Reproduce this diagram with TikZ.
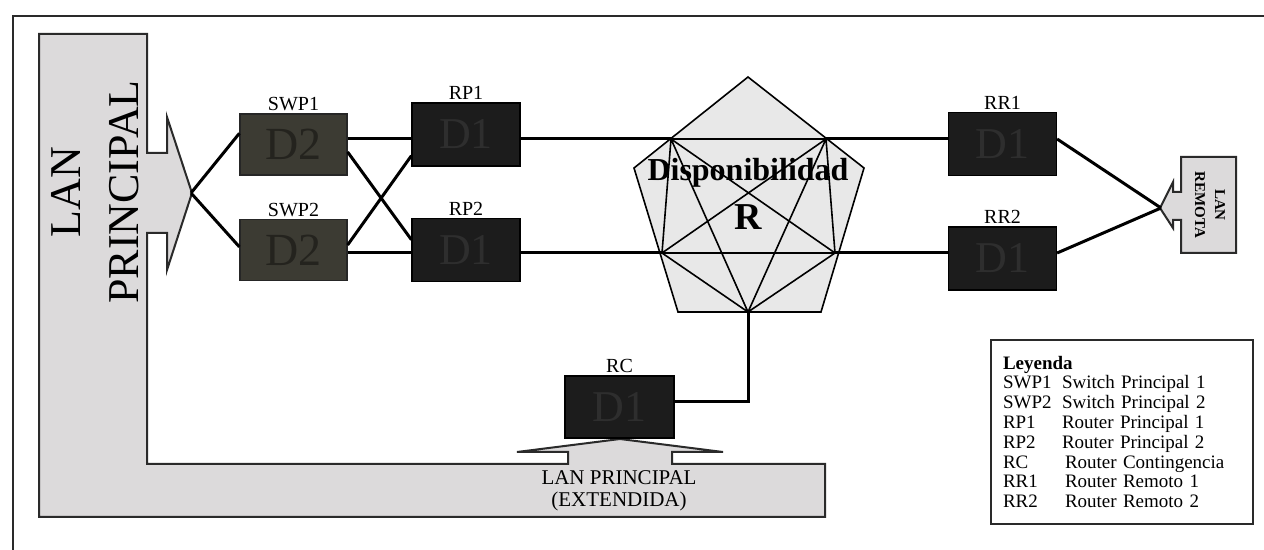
\documentclass[tikz,border=0pt]{standalone}
\usepackage{fontspec}
\setmainfont{Liberation Serif}
\usetikzlibrary{calc}
\definecolor{lanfill}{HTML}{DCDADB}
\definecolor{pentfill}{HTML}{E8E8E8}
\definecolor{swfill}{HTML}{3C3B33}
\definecolor{swtext}{HTML}{24231E}
\definecolor{rtfill}{HTML}{1C1C1C}
\definecolor{rttext}{HTML}{2E2E2E}
\definecolor{edgecol}{HTML}{2A2A2A}
\begin{document}
\begin{tikzpicture}[x=0.5pt,y=-0.5pt,
  conn/.style={line width=1.5pt, black},
  kedge/.style={line width=0.8pt, black},
  lanshape/.style={fill=lanfill, draw=edgecol, line width=1pt, line join=miter},
  swbox/.style={fill=swfill, draw=black!85, line width=0.6pt, minimum width=53.5pt, minimum height=30.5pt, inner sep=0pt, font=\fontsize{23}{23}\selectfont, text=swtext},
  rtbox/.style={fill=rtfill, draw=black, line width=0.6pt, minimum width=54pt, minimum height=31.5pt, inner sep=0pt, font=\fontsize{22}{22}\selectfont, text=rttext},
  boxlabel/.style={font=\fontsize{10}{10}\selectfont, inner sep=1pt, anchor=south},
  legendbox/.style={draw=edgecol, line width=1pt, fill=white, align=left, text width=119pt, inner xsep=6pt, inner ysep=4pt, minimum height=92pt, font=\fontsize{9.5}{9.9}\selectfont},
]
\useasboundingbox (0,0) rectangle (1264,550);

% outer frame (open at right and bottom)
\draw[edgecol, line width=1.2pt] (13,550) -- (13,16) -- (1264,16);

% LAN PRINCIPAL L-shape with two arrows
\draw[lanshape] (39,34) -- (147,34) -- (147,153) -- (167,153) -- (167,117) -- (192,193)
  -- (167,270) -- (167,233) -- (147,233) -- (147,464) -- (568,464) -- (568,452)
  -- (517,452) -- (620,439) -- (723,452) -- (672,452) -- (672,464) -- (825,464)
  -- (825,517) -- (39,517) -- cycle;
\node[rotate=90, align=center, font=\fontsize{22}{29}\selectfont, inner sep=0pt] (lanp) at (95,192) {LAN\\PRINCIPAL};
\node[align=center, font=\fontsize{10.5}{11}\selectfont, inner sep=0pt] (lanext) at (619,491) {LAN PRINCIPAL\\(EXTENDIDA)};
\coordinate (lanTip) at (191,193);

% LAN REMOTA
\draw[lanshape] (1181,157) -- (1236,157) -- (1236,253) -- (1181,253) -- (1181,220) -- (1173,220)
  -- (1173,228) -- (1160,208) -- (1173,182) -- (1173,192) -- (1181,192) -- cycle;
\node[rotate=-90, align=center, font=\bfseries\fontsize{7.5}{10}\selectfont, inner sep=0pt] (lanr) at (1210,205) {LAN\\REMOTA};
\coordinate (remTip) at (1161,208);

% pentagon
\coordinate (P1) at (748,77);
\coordinate (P2) at (864,168);
\coordinate (P3) at (821,312);
\coordinate (P4) at (678,312);
\coordinate (P5) at (634,168);
\coordinate (A) at (671,139);
\coordinate (B) at (826,139);
\coordinate (C) at (662,253);
\coordinate (D) at (835,253);
\coordinate (E) at (748,312);
\draw[kedge, fill=pentfill] (P1) -- (P2) -- (P3) -- (P4) -- (P5) -- cycle;
\draw[kedge] (A) -- (B) (C) -- (D) (A) -- (C) (A) -- (D) (A) -- (E)
  (B) -- (C) (B) -- (D) (B) -- (E) (C) -- (E) (D) -- (E);

% row reference lines
\coordinate (r1) at (0,139);
\coordinate (r2) at (0,253);

% boxes
\node[swbox] (SWP1) at (293.5,144.5) {D2};
\node[swbox] (SWP2) at (293.5,250) {D2};
\node[rtbox] (RP1) at (466,134.5) {D1};
\node[rtbox] (RP2) at (466,250) {D1};
\node[rtbox] (RR1) at (1002.5,144) {D1};
\node[rtbox] (RR2) at (1002.5,258.5) {D1};
\node[rtbox, minimum width=54.5pt, minimum height=31pt] (RC) at (619.5,407) {D1};

\node[boxlabel] (lSWP1) at (SWP1.north) {SWP1};
\node[boxlabel] (lSWP2) at (SWP2.north) {SWP2};
\node[boxlabel] (lRP1) at (RP1.north) {RP1};
\node[boxlabel] (lRP2) at (RP2.north) {RP2};
\node[boxlabel] (lRR1) at (RR1.north) {RR1};
\node[boxlabel] (lRR2) at (RR2.north) {RR2};
\node[boxlabel] (lRC) at (RC.north) {RC};

% connectors
\draw[conn] (lanTip) -- ($(SWP1.north west)!0.32!(SWP1.south west)$);
\draw[conn] (lanTip) -- ($(SWP2.north west)!0.45!(SWP2.south west)$);
\draw[conn] (SWP1.east |- r1) -- (RP1.west |- r1);
\draw[conn] (SWP2.east |- r2) -- (RP2.west |- r2);
\draw[conn] ($(SWP1.north east)!0.62!(SWP1.south east)$) -- ($(RP2.north west)!0.34!(RP2.south west)$);
\draw[conn] ($(SWP2.north east)!0.42!(SWP2.south east)$) -- ($(RP1.north west)!0.83!(RP1.south west)$);
\draw[conn] (RP1.east |- r1) -- (A);
\draw[conn] (B) -- (RR1.west |- r1);
\draw[conn] (RP2.east |- r2) -- (C);
\draw[conn] (D) -- (RR2.west |- r2);
\draw[conn] (RR1.east |- r1) -- (remTip);
\draw[conn] (RR2.east |- r2) -- (remTip);
\draw[conn] (E) |- ($(RC.north east)!0.42!(RC.south east)$);

% pentagon texts
\node[font=\bfseries\fontsize{16}{16}\selectfont, inner sep=0pt] (disp) at (748,173) {Disponibilidad};
\node[font=\bfseries\fontsize{19}{19}\selectfont, inner sep=0pt] (rel) at (748,217) {R};

% legend
\node[legendbox, anchor=north west] (leg) at (990,339) {\textbf{Leyenda}\\
\makebox[29.5pt][l]{SWP1}Switch Principal 1\\
\makebox[29.5pt][l]{SWP2}Switch Principal 2\\
\makebox[29.5pt][l]{RP1}Router Principal 1\\
\makebox[29.5pt][l]{RP2}Router Principal 2\\
\makebox[31pt][l]{RC}Router Contingencia\\
\makebox[31pt][l]{RR1}Router Remoto 1\\
\makebox[31pt][l]{RR2}Router Remoto 2};
\end{tikzpicture}
\end{document}
